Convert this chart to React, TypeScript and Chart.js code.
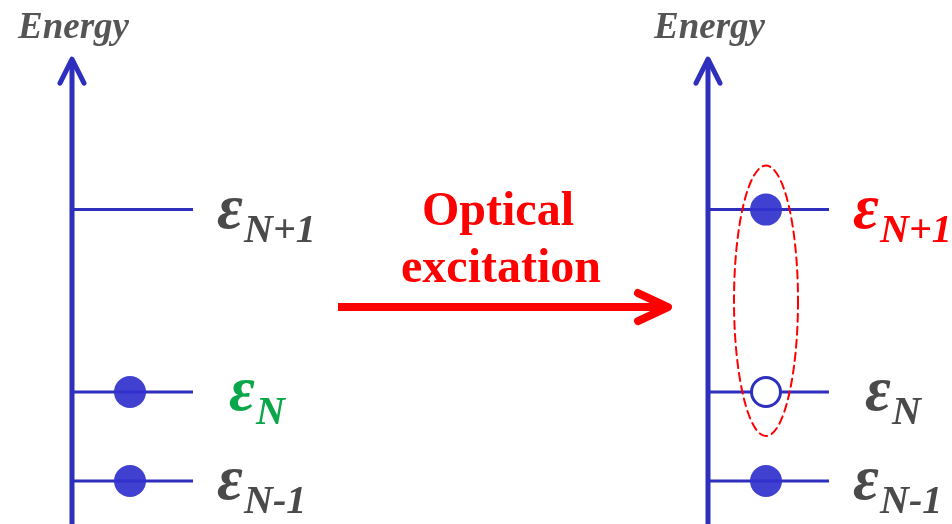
import React, { useEffect, useRef } from 'react';
import { Chart, registerables } from 'chart.js';

Chart.register(...registerables);

// ---- Data ----
const levelNames = ['N-1', 'N', 'N+1'];
const levelEnergies = [1.0, 2.0, 4.05];
const occupancyBefore = [1, 1, 0]; // 1 = electron, 0 = empty, -1 = hole
const occupancyAfter = [1, -1, 1];
const panelTitles = ['Energy', 'Energy'];
const arrowLabels = ['Optical', 'excitation'];
const energyMin = 0.517;
const energyMax = 6.405;
const energyAxisTop = 5.74;
const excitationArrowEnergy = 2.955;

// ---- Layout / style ----
const W = 952;
const H = 524;
const panelAxisX = [72, 708];
const levelLength = 121;
const electronOffset = 58;
const labelOffsets = [145, 157, 145];
const BLUE = '#2f2fbd';
const DOT = 'rgba(50,50,205,0.93)';
const GRAY = '#4a4a4a';
const GREEN = '#0aa64a';
const RED = '#ff0000';
const labelColors = [
  [GRAY, GREEN, GRAY],
  [GRAY, GRAY, RED],
];
const occupancies = [occupancyBefore, occupancyAfter];

function buildDatasets() {
  const ds: any[] = [];
  // electrons (first => drawn on top)
  occupancies.forEach((occ, p) => {
    const pts: any[] = [];
    const bg: string[] = [];
    const bc: string[] = [];
    const bw: number[] = [];
    const r: number[] = [];
    occ.forEach((o, i) => {
      if (o === 0) return;
      pts.push({ x: panelAxisX[p] + electronOffset, y: levelEnergies[i] });
      if (o === 1) {
        bg.push(DOT);
        bc.push(DOT);
        bw.push(0);
        r.push(16);
      } else {
        bg.push('#ffffff');
        bc.push(BLUE);
        bw.push(3);
        r.push(14.5);
      }
    });
    ds.push({
      data: pts,
      showLine: false,
      pointRadius: r,
      pointBackgroundColor: bg,
      pointBorderColor: bc,
      pointBorderWidth: bw,
      pointHoverRadius: r,
    });
  });
  // level lines
  panelAxisX.forEach((ax) => {
    const pts: any[] = [];
    levelEnergies.forEach((e, i) => {
      pts.push({ x: ax, y: e });
      pts.push({ x: ax + levelLength, y: e });
      if (i < levelEnergies.length - 1) pts.push({ x: ax + levelLength / 2, y: null });
    });
    ds.push({
      data: pts,
      showLine: true,
      spanGaps: false,
      borderColor: BLUE,
      borderWidth: 3,
      pointRadius: 0,
    });
  });
  // energy axes
  panelAxisX.forEach((ax) => {
    ds.push({
      data: [
        { x: ax, y: energyMin },
        { x: ax, y: energyAxisTop },
      ],
      showLine: true,
      borderColor: BLUE,
      borderWidth: 5,
      pointRadius: 0,
    });
    ds.push({
      data: [
        { x: ax - 12, y: energyAxisTop - 0.27 },
        { x: ax, y: energyAxisTop },
        { x: ax + 12, y: energyAxisTop - 0.27 },
      ],
      showLine: true,
      borderColor: BLUE,
      borderWidth: 5,
      borderCapStyle: 'round',
      borderJoinStyle: 'round',
      pointRadius: 0,
    });
  });
  return ds;
}

const overlay = {
  id: 'overlay',
  afterDatasetsDraw(chart: any) {
    const { ctx } = chart;
    const xs = chart.scales.x;
    const ys = chart.scales.y;
    ctx.save();
    ctx.textBaseline = 'alphabetic';
    ctx.textAlign = 'left';

    // titles
    ctx.font = 'italic bold 37px "Liberation Serif"';
    ctx.fillStyle = '#555555';
    panelAxisX.forEach((ax, p) => {
      ctx.fillText(panelTitles[p], xs.getPixelForValue(ax - 54), 38);
    });

    // level labels
    panelAxisX.forEach((ax, p) => {
      levelEnergies.forEach((e, i) => {
        const py = ys.getPixelForValue(e);
        const px = xs.getPixelForValue(ax + labelOffsets[i]);
        ctx.fillStyle = labelColors[p][i];
        ctx.font = 'italic bold 63px "Liberation Serif"';
        ctx.fillText('\u03b5', px, py + 18);
        ctx.font = 'italic bold 40px "Liberation Serif"';
        ctx.fillText(levelNames[i], px + 27, py + 32);
      });
    });

    // excitation arrow
    const ay = ys.getPixelForValue(excitationArrowEnergy);
    const x0 = xs.getPixelForValue(338);
    const x1 = xs.getPixelForValue(668);
    ctx.strokeStyle = RED;
    ctx.lineWidth = 8;
    ctx.lineCap = 'butt';
    ctx.beginPath();
    ctx.moveTo(x0, ay);
    ctx.lineTo(x1, ay);
    ctx.stroke();
    ctx.lineCap = 'round';
    ctx.lineJoin = 'round';
    ctx.beginPath();
    ctx.moveTo(x1 - 30, ay - 14);
    ctx.lineTo(x1, ay);
    ctx.lineTo(x1 - 30, ay + 14);
    ctx.stroke();

    ctx.fillStyle = RED;
    ctx.textAlign = 'center';
    ctx.font = 'bold 48px "Liberation Serif"';
    ctx.fillText(arrowLabels[0], xs.getPixelForValue(498), ay - 82);
    ctx.fillText(arrowLabels[1], xs.getPixelForValue(501), ay - 25);

    // exciton ellipse
    const pN = ys.getPixelForValue(levelEnergies[1]);
    const pN1 = ys.getPixelForValue(levelEnergies[2]);
    const cx = xs.getPixelForValue(panelAxisX[1] + electronOffset);
    const cy = (pN + pN1) / 2;
    const ry = (pN - pN1) / 2 + 44;
    ctx.strokeStyle = RED;
    ctx.lineWidth = 2;
    ctx.setLineDash([8, 5]);
    ctx.beginPath();
    ctx.ellipse(cx, cy, 32, ry, 0, 0, Math.PI * 2);
    ctx.stroke();
    ctx.restore();
  },
};

export default function App() {
  const ref = useRef<HTMLCanvasElement | null>(null);
  useEffect(() => {
    if (!ref.current) return;
    const chart = new Chart(ref.current, {
      type: 'scatter',
      data: { datasets: buildDatasets() },
      options: {
        animation: false,
        responsive: false,
        events: [],
        layout: { padding: 0, autoPadding: false },
        plugins: { legend: { display: false }, tooltip: { enabled: false } },
        scales: {
          x: { type: 'linear', min: 0, max: W, display: false },
          y: { type: 'linear', min: energyMin, max: energyMax, display: false },
        },
      },
      plugins: [overlay],
    });
    return () => chart.destroy();
  }, []);
  return (
    <div style={{ position: 'absolute', left: 0, top: 0, width: W, height: H, background: '#fff' }}>
      <canvas ref={ref} width={W} height={H} style={{ display: 'block' }} />
    </div>
  );
}
